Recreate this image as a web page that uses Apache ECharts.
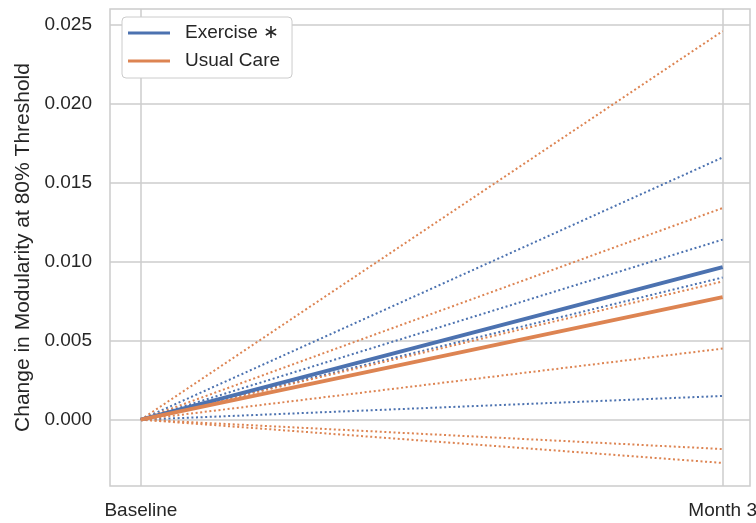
<!DOCTYPE html>
<html>
<head>
<meta charset="utf-8">
<script src="https://cdn.jsdelivr.net/npm/echarts@6/dist/echarts.min.js"></script>
<style>html,body{margin:0;padding:0;background:#fff}#c{width:756px;height:523px}</style>
</head>
<body>
<div id="c"></div>
<script>
// Time points (x positions 0 = Baseline, 1 = Month 3)
const timeLabels = ['Baseline', 'Month 3'];
// Individual changes at Month 3 (baseline = 0)
const exerciseIndividuals = [0.0166, 0.0114, 0.0090, 0.0015];
const usualCareIndividuals = [0.0246, 0.0134, 0.00875, 0.0045, -0.00186, -0.00274];
// Group means at Month 3
const exerciseMean = 0.00966;
const usualCareMean = 0.00776;
// Y tick values
const yTicks = [0, 0.005, 0.010, 0.015, 0.020, 0.025];
const xTicks = [0, 1];

const BLUE = '#4C72B0', ORANGE = '#DD8452';
const FONT = 'Liberation Sans, Arial, sans-serif';

const series = [];
exerciseIndividuals.forEach((v, i) => {
  series.push({
    name: 'ex' + i, type: 'line', showSymbol: false, silent: true,
    data: [[0, 0], [1, v]],
    lineStyle: { color: BLUE, width: 2, type: [2, 2.6] }, itemStyle: { color: BLUE }
  });
});
usualCareIndividuals.forEach((v, i) => {
  series.push({
    name: 'uc' + i, type: 'line', showSymbol: false, silent: true,
    data: [[0, 0], [1, v]],
    lineStyle: { color: ORANGE, width: 2, type: [2, 2.6] }, itemStyle: { color: ORANGE }
  });
});
series.push({
  name: 'Exercise \u2217', type: 'line', showSymbol: false, silent: true,
  data: [[0, 0], [1, exerciseMean]],
  lineStyle: { color: BLUE, width: 4 }, itemStyle: { color: BLUE }
});
series.push({
  name: 'Usual Care', type: 'line', showSymbol: false, silent: true,
  data: [[0, 0], [1, usualCareMean]],
  lineStyle: { color: ORANGE, width: 4 }, itemStyle: { color: ORANGE }
});

const chart = echarts.init(document.getElementById('c'), null, { renderer: 'canvas' });
chart.setOption({
  animation: false,
  backgroundColor: '#fff',
  grid: { left: 110, right: 6, top: 9, bottom: 37, outerBoundsMode: 'none', containLabel: false, show: true, borderColor: '#cccccc', borderWidth: 1.5, backgroundColor: '#fff' },
  legend: {
    data: ['Exercise \u2217', 'Usual Care'],
    orient: 'vertical', left: 122, top: 17,
    icon: 'rect', itemWidth: 42, itemHeight: 3, itemGap: 8,
    padding: [6, 12, 7, 6],
    borderColor: '#cccccc', borderWidth: 1, borderRadius: 4, backgroundColor: '#fff',
    textStyle: { fontFamily: FONT, fontSize: 19, color: '#262626', lineHeight: 20, padding: [0, 0, 0, 10] }
  },
  xAxis: {
    type: 'value', min: -0.053, max: 1.047,
    axisLine: { show: false },
    axisTick: { show: false, customValues: xTicks },
    axisLabel: { customValues: xTicks, formatter: v => timeLabels[Math.round(v)], fontFamily: FONT, fontSize: 19, color: '#262626', margin: 15 },
    splitLine: { show: true, lineStyle: { color: '#cccccc', width: 1.5 } }
  },
  yAxis: {
    type: 'value', min: -0.0042, max: 0.026,
    name: 'Change in Modularity at 80% Threshold',
    nameLocation: 'middle', nameGap: 72,
    nameTextStyle: { fontFamily: FONT, fontSize: 21, color: '#262626' },
    axisLine: { show: false },
    axisTick: { show: false, customValues: yTicks },
    axisLabel: { customValues: yTicks, formatter: v => v.toFixed(3), fontFamily: FONT, fontSize: 19, color: '#262626', margin: 18 },
    splitLine: { show: true, lineStyle: { color: '#cccccc', width: 1.5 } }
  },
  series: series
});
</script>
</body>
</html>
